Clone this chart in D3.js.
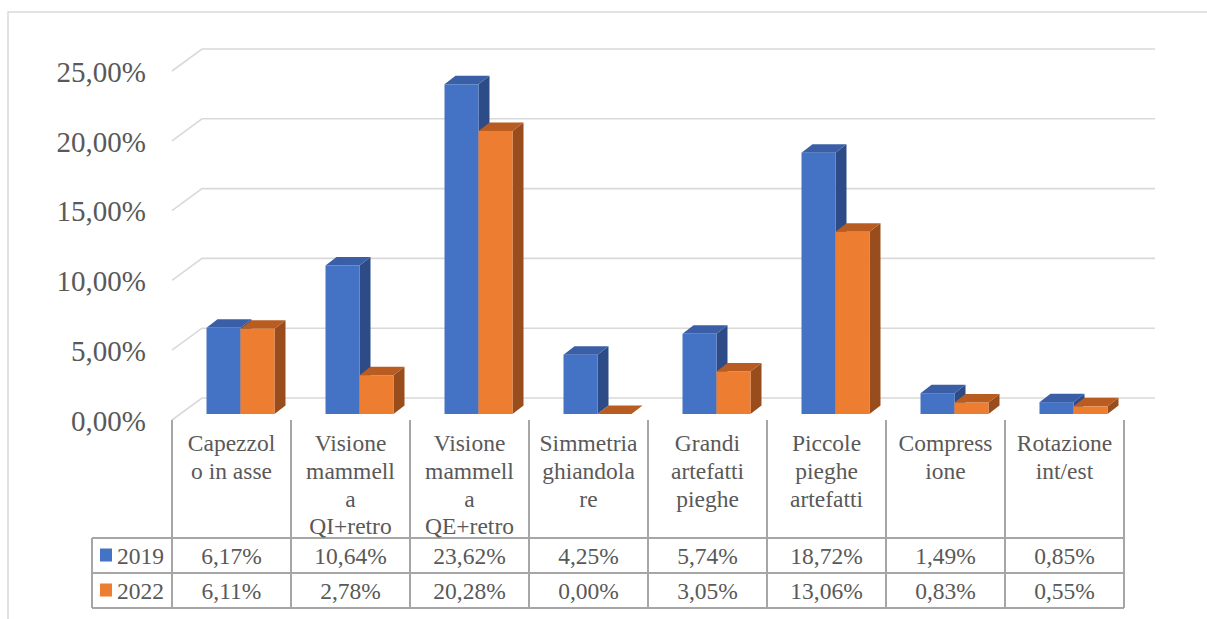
<!DOCTYPE html>
<html>
<head>
<meta charset="utf-8">
<script src="https://cdn.jsdelivr.net/npm/d3@7"></script>
<style>
    body { margin: 0; background: #fff; }
</style>
</head>
<body>
<svg id="drawing_region"></svg>
<script>
// data
const categories = ["Capezzolo in asse", "Visione mammella QI+retro", "Visione mammella QE+retro",
    "Simmetria ghiandolare", "Grandi artefatti pieghe", "Piccole pieghe artefatti",
    "Compressione", "Rotazione int/est"];
// label wrapping as in the picture
const categoryLines = [
    ["Capezzol", "o in asse"],
    ["Visione", "mammell", "a", "QI+retro"],
    ["Visione", "mammell", "a", "QE+retro"],
    ["Simmetria", "ghiandola", "re"],
    ["Grandi", "artefatti", "pieghe"],
    ["Piccole", "pieghe", "artefatti"],
    ["Compress", "ione"],
    ["Rotazione", "int/est"]
];
const seriesNames = ["2019", "2022"];
const values2019 = [0.0617, 0.1064, 0.2362, 0.0425, 0.0574, 0.1872, 0.0149, 0.0085];
const values2022 = [0.0611, 0.0278, 0.2028, 0.0000, 0.0305, 0.1306, 0.0083, 0.0055];
const yTicks = [0, 0.05, 0.10, 0.15, 0.20, 0.25];

const colors = {
    "2019": { front: "#4472c4", top: "#3a5fa6", side: "#2d4b86" },
    "2022": { front: "#ed7d31", top: "#b85c21", side: "#9a4d1c" }
};

const FONT = "Liberation Serif";
const TEXT_COLOR = "#595959";

const width = 1207, height = 619;
const left = 172, right = 1124;
const floorY = 420, topY = 71;
const wallDx = 30, wallDy = -22;   // back wall offset
const barDx = 9, barDy = -6;       // bar front plane offset from floor front
const depthDx = 11, depthDy = -8.5; // bar depth

const itLocale = d3.formatLocale({ decimal: ",", thousands: ".", grouping: [3], currency: ["", "€"] });
const pct = itLocale.format(".2%");

const svg = d3.select("#drawing_region")
    .attr("width", width)
    .attr("height", height)
    .attr("font-family", FONT);

// outer chart border
svg.append("rect")
    .attr("x", 8).attr("y", 12)
    .attr("width", width + 20).attr("height", height + 20)
    .attr("fill", "none")
    .attr("stroke", "#d9d9d9")
    .attr("stroke-width", 1.5);

const xscale = d3.scaleBand()
    .domain(categories)
    .range([left, right])
    .paddingInner(0);

const sscale = d3.scaleBand()
    .domain(seriesNames)
    .range([0, xscale.bandwidth()])
    .paddingInner(0)
    .paddingOuter(0.75);

const yscale = d3.scaleLinear()
    .domain([0, 0.25])
    .range([floorY, topY]);

// gridlines on side and back wall
svg.append("g").selectAll("path").data(yTicks).join("path")
    .attr("d", d => {
        const y = yscale(d);
        return `M${left},${y}L${left + wallDx},${y + wallDy}L${right + wallDx + 1},${y + wallDy}`;
    })
    .attr("fill", "none")
    .attr("stroke", "#d9d9d9")
    .attr("stroke-width", 1.6);

// y axis labels
const yaxis = d3.axisLeft(yscale)
    .tickValues(yTicks)
    .tickFormat(pct)
    .tickSize(0)
    .tickPadding(26);

const yaxis_group = svg.append("g")
    .attr("transform", `translate(${left}, 1)`)
    .call(yaxis)
    .attr("font-family", FONT)
    .attr("font-size", 29);
yaxis_group.select(".domain").remove();
yaxis_group.selectAll("text")
    .attr("font-family", FONT)
    .attr("font-size", 29)
    .attr("fill", TEXT_COLOR);

// bars, drawn left to right
const bars = [];
categories.forEach((c, i) => {
    bars.push({ cat: c, s: "2019", v: values2019[i] });
    bars.push({ cat: c, s: "2022", v: values2022[i] });
});

const bw = sscale.bandwidth();
const base = floorY + barDy;
const bar_g = svg.append("g").selectAll("g").data(bars).join("g");

bar_g.each(function(d) {
    const g = d3.select(this);
    const x0 = xscale(d.cat) + sscale(d.s) + barDx;
    const x1 = x0 + bw;
    const yt = yscale(d.v) + barDy;
    const c = colors[d.s];
    // side
    g.append("path")
        .attr("d", `M${x1},${base}L${x1 + depthDx},${base + depthDy}L${x1 + depthDx},${yt + depthDy}L${x1},${yt}Z`)
        .attr("fill", c.side);
    // top
    g.append("path")
        .attr("d", `M${x0},${yt}L${x0 + depthDx},${yt + depthDy}L${x1 + depthDx},${yt + depthDy}L${x1},${yt}Z`)
        .attr("fill", c.top);
    // front
    g.append("rect")
        .attr("x", x0).attr("y", yt)
        .attr("width", bw).attr("height", base - yt)
        .attr("fill", c.front);
});

// data table
const rowTop = 538, rowH = 35, tableBottom = rowTop + rowH * 2;
const legendLeft = 92;
const tableStroke = "#a6a6a6";
const table = svg.append("g");

table.selectAll("line.v").data(categories.concat(["_end"])).join("line")
    .attr("class", "v")
    .attr("x1", d => d === "_end" ? right : xscale(d))
    .attr("x2", d => d === "_end" ? right : xscale(d))
    .attr("y1", floorY)
    .attr("y2", tableBottom)
    .attr("stroke", tableStroke)
    .attr("stroke-width", 2);

table.selectAll("line.h").data([0, 1, 2]).join("line")
    .attr("class", "h")
    .attr("x1", legendLeft)
    .attr("x2", right)
    .attr("y1", d => rowTop + d * rowH)
    .attr("y2", d => rowTop + d * rowH)
    .attr("stroke", tableStroke)
    .attr("stroke-width", 2);

table.append("line")
    .attr("x1", legendLeft).attr("x2", legendLeft)
    .attr("y1", rowTop).attr("y2", tableBottom)
    .attr("stroke", tableStroke)
    .attr("stroke-width", 2);

// category labels
categories.forEach((c, i) => {
    table.append("text")
        .attr("x", xscale(c) + xscale.bandwidth() / 2)
        .attr("y", 451)
        .attr("text-anchor", "middle")
        .attr("font-family", FONT)
        .attr("font-size", 23.5)
        .attr("fill", TEXT_COLOR)
        .selectAll("tspan").data(categoryLines[i]).join("tspan")
        .attr("x", xscale(c) + xscale.bandwidth() / 2)
        .attr("dy", (d, j) => j === 0 ? 0 : 27.8)
        .text(d => d);
});

// legend keys and values
const seriesValues = [values2019, values2022];
seriesNames.forEach((s, r) => {
    const cy = rowTop + r * rowH + rowH / 2;
    table.append("rect")
        .attr("x", 100).attr("y", cy - 7)
        .attr("width", 12).attr("height", 13)
        .attr("fill", colors[s].front);
    table.append("text")
        .attr("x", 117).attr("y", cy + 8.5)
        .attr("font-family", FONT)
        .attr("font-size", 23.5)
        .attr("fill", TEXT_COLOR)
        .text(s);
    table.selectAll(null).data(seriesValues[r]).join("text")
        .attr("x", (d, i) => xscale(categories[i]) + xscale.bandwidth() / 2)
        .attr("y", cy + 8.5)
        .attr("text-anchor", "middle")
        .attr("font-family", FONT)
        .attr("font-size", 23.5)
        .attr("fill", TEXT_COLOR)
        .text(d => pct(d));
});
</script>
</body>
</html>
